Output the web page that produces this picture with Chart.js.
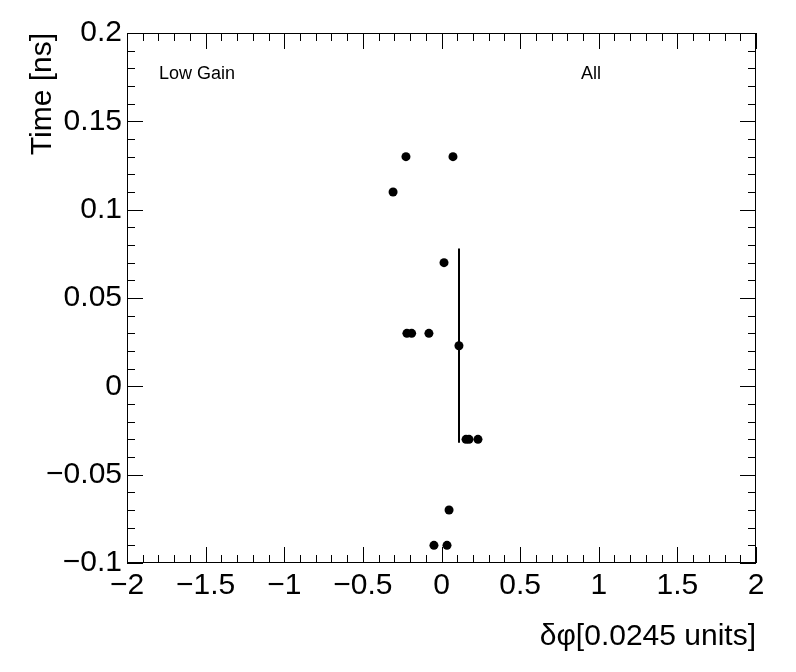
<!DOCTYPE html>
<html><head><meta charset="utf-8">
<script src="https://cdn.jsdelivr.net/npm/chart.js@4"></script>
<style>html,body{margin:0;padding:0;background:#fff}#wrap{width:796px;height:672px}</style>
</head><body><div id="wrap"><canvas id="c" width="796" height="672"></canvas></div>
<script>
const xValues = [-0.308, -0.226, 0.073, 0.016, -0.22, -0.19, -0.08, 0.111, 0.156, 0.175, 0.232, 0.048, -0.048, 0.035];
const yValues = [0.11, 0.13, 0.13, 0.07, 0.03, 0.03, 0.03, 0.023, -0.03, -0.03, -0.03, -0.07, -0.09, -0.09];
const errCenter = [0.111, 0.023];
const errHalf = [0.055];
const xTickValues = [-2, -1.5, -1, -0.5, 0, 0.5, 1, 1.5, 2];
const yTickValues = [-0.1, -0.05, 0, 0.05, 0.1, 0.15, 0.2];
const labels = { xTitle: 'δφ[0.0245 units]', yTitle: 'Time [ns]', left: 'Low Gain', right: 'All' };

const FONT = '"Liberation Sans", Arial, sans-serif';
function fmt(v){ const s = (Math.round(v*100)/100).toString(); return s.replace('-', '\u2212'); }

const rootTicks = {
  id: 'rootTicks',
  afterDraw(chart){
    const {ctx, chartArea:a, scales:{x, y}} = chart;
    ctx.save();
    ctx.strokeStyle = '#000'; ctx.lineWidth = 1;
    ctx.strokeRect(a.left+0.5, a.top+0.5, a.right-a.left-1, a.bottom-a.top-1);
    for (let i = -20; i <= 20; i++) {
      const v = i/10; const px = Math.round(x.getPixelForValue(v))+0.5;
      const L = (i % 5 === 0) ? 16 : 8;
      ctx.beginPath();
      ctx.moveTo(px, a.bottom); ctx.lineTo(px, a.bottom-L);
      ctx.moveTo(px, a.top); ctx.lineTo(px, a.top+L);
      ctx.stroke();
    }
    for (let i = -10; i <= 20; i++) {
      const v = i/100; const py = Math.round(y.getPixelForValue(v))+0.5;
      const L = (i % 5 === 0) ? 16 : 8;
      ctx.beginPath();
      ctx.moveTo(a.left, py); ctx.lineTo(a.left+L, py);
      ctx.moveTo(a.right, py); ctx.lineTo(a.right-L, py);
      ctx.stroke();
    }
    ctx.lineWidth = 2;
    const ex = Math.round(x.getPixelForValue(errCenter[0]));
    ctx.beginPath();
    ctx.moveTo(ex, y.getPixelForValue(errCenter[1]+errHalf[0]));
    ctx.lineTo(ex, y.getPixelForValue(errCenter[1]-errHalf[0]));
    ctx.stroke();
    ctx.fillStyle = '#000';
    ctx.font = '30px ' + FONT;
    ctx.textAlign = 'right'; ctx.textBaseline = 'alphabetic';
    ctx.fillText(labels.xTitle, a.right, 645);
    ctx.save();
    ctx.translate(51, a.top); ctx.rotate(-Math.PI/2);
    ctx.textAlign = 'right';
    ctx.fillText(labels.yTitle, 0, 0);
    ctx.restore();
    ctx.font = '18px ' + FONT;
    ctx.textAlign = 'left'; ctx.textBaseline = 'middle';
    ctx.fillText(labels.left, 159, 74);
    ctx.fillText(labels.right, 581, 74);
    ctx.restore();
  }
};

new Chart(document.getElementById('c'), {
  type: 'scatter',
  data: { datasets: [{
    data: xValues.map((v, i) => ({x: v, y: yValues[i]})),
    backgroundColor: '#000', borderColor: '#000', pointRadius: 4.5, pointBorderWidth: 0
  }]},
  options: {
    responsive: false, animation: false,
    layout: { padding: { top: 33, right: 40, left: 0, bottom: 0 } },
    plugins: { legend: { display: false }, tooltip: { enabled: false } },
    scales: {
      x: {
        type: 'linear', min: -2, max: 2,
        afterBuildTicks(s){ s.ticks = xTickValues.map(v => ({value: v})); },
        afterFit(s){ s.height = 672 - 563; },
        grid: { display: false, drawTicks: false },
        border: { display: false },
        ticks: { padding: 5, maxRotation: 0, autoSkip: false, color: '#000', font: { family: FONT, size: 30 }, callback: v => fmt(v) }
      },
      y: {
        type: 'linear', min: -0.1, max: 0.2,
        afterBuildTicks(s){ s.ticks = yTickValues.map(v => ({value: v})); },
        afterFit(s){ s.width = 127; },
        grid: { display: false, drawTicks: false },
        border: { display: false },
        ticks: { padding: 5, autoSkip: false, color: '#000', font: { family: FONT, size: 30 }, callback: v => fmt(v) }
      }
    }
  },
  plugins: [rootTicks]
});
</script></body></html>
